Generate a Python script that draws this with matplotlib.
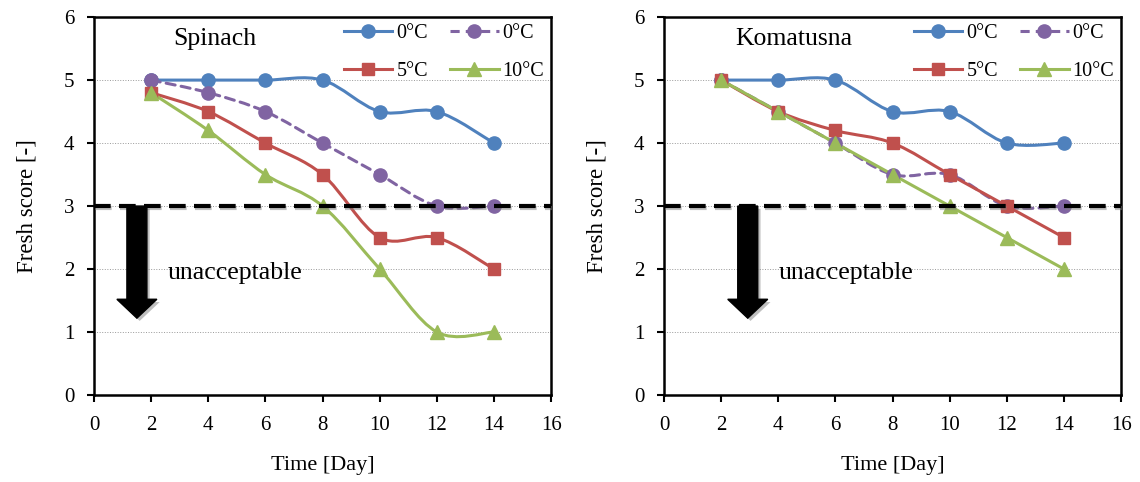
import numpy as np
import matplotlib
matplotlib.use("Agg")
import matplotlib.pyplot as plt
from matplotlib.path import Path
from matplotlib.patches import PathPatch, FancyArrow
from matplotlib.lines import Line2D
import matplotlib.patheffects as pe

plt.rcParams['font.family'] = ['Liberation Serif', 'DejaVu Serif']

days = [2, 4, 6, 8, 10, 12, 14]

spinach_0c = [5, 5, 5, 5, 4.5, 4.5, 4]
spinach_0c_b = [5, 4.8, 4.5, 4, 3.5, 3, 3]
spinach_5c = [4.8, 4.5, 4, 3.5, 2.5, 2.5, 2]
spinach_10c = [4.8, 4.2, 3.5, 3, 2, 1, 1]

komatsuna_0c = [5, 5, 5, 4.5, 4.5, 4, 4]
komatsuna_0c_b = [5, 4.5, 4, 3.5, 3.5, 3, 3]
komatsuna_5c = [5, 4.5, 4.2, 4, 3.5, 3, 2.5]
komatsuna_10c = [5, 4.5, 4, 3.5, 3, 2.5, 2]

series_labels = ['0°C', '0°C', '5°C', '10°C']
threshold = 3
x_ticks = list(range(0, 17, 2))
y_ticks = list(range(0, 7))

BLUE = '#4F81BD'
PURPLE = '#8064A2'
RED = '#C0504D'
GREEN = '#9BBB59'


def smooth_path(x, y):
    """Bezier path through the points, Excel-style smoothed line."""
    pts = np.column_stack([x, y]).astype(float)
    n = len(pts)
    verts = [pts[0]]
    codes = [Path.MOVETO]
    for i in range(n - 1):
        p0 = pts[i - 1] if i > 0 else pts[i]
        p1 = pts[i]
        p2 = pts[i + 1]
        p3 = pts[i + 2] if i + 2 < n else pts[i + 1]
        c1 = p1 + (p2 - p0) / 6.0
        c2 = p2 - (p3 - p1) / 6.0
        verts += [c1, c2, p2]
        codes += [Path.CURVE4] * 3
    return Path(verts, codes)


def draw_series(ax, y, color, marker, ms, ls='-'):
    patch = PathPatch(smooth_path(days, y), facecolor='none', edgecolor=color,
                      lw=2.2, linestyle=ls, zorder=3, capstyle='round')
    ax.add_patch(patch)
    ax.plot(days, y, linestyle='none', marker=marker, ms=ms, color=color,
            markeredgecolor=color, zorder=4)


def panel(ax, data, title, title_x, arrow_x, text_x):
    y0, y0b, y5, y10 = data
    draw_series(ax, y0, BLUE, 'o', 9.5)
    draw_series(ax, y0b, PURPLE, 'o', 9.5, ls=(0, (3, 2)))
    draw_series(ax, y5, RED, 's', 9)
    draw_series(ax, y10, GREEN, '^', 9.5)

    ax.set_xlim(0, 16)
    ax.set_ylim(0, 6)
    ax.set_xticks(x_ticks)
    ax.set_yticks(y_ticks)
    ax.tick_params(axis='both', direction='out', length=5, width=1.5,
                   labelsize=15)
    ax.tick_params(axis='x', pad=10)
    ax.tick_params(axis='y', pad=9)
    for s in ax.spines.values():
        s.set_linewidth(1.8)
    ax.grid(axis='y', color='#999999', lw=0.7, ls=':')
    ax.set_axisbelow(True)

    ax.axhline(threshold, color='black', lw=3, ls=(0, (4, 2)), zorder=6,
               clip_on=False,
               path_effects=[pe.SimpleLineShadow(offset=(1, -1.5),
                                                 shadow_color='gray', alpha=0.5),
                             pe.Normal()])

    arr = FancyArrow(arrow_x, threshold, 0, 1.22 - threshold, width=0.7,
                     head_width=1.4, head_length=0.3,
                     length_includes_head=True, color='black', zorder=7,
                     path_effects=[pe.withSimplePatchShadow(offset=(2, -2),
                                                            shadow_rgbFace='gray',
                                                            alpha=0.5)])
    ax.add_patch(arr)

    ax.text(text_x, 1.94, 'unacceptable', fontsize=18.5, va='center', ha='left')
    ax.text(title_x, 5.65, title, fontsize=18.5, va='center', ha='left')

    ax.set_xlabel('Time [Day]', fontsize=16, labelpad=15)
    ax.set_ylabel('Fresh score [-]', fontsize=16.5, labelpad=19)

    handles = [
        Line2D([], [], color=BLUE, marker='o', ms=9.5, lw=2.2),
        Line2D([], [], color=RED, marker='s', ms=9, lw=2.2),
        Line2D([], [], color=PURPLE, marker='o', ms=9.5, lw=2.2, ls=(0, (3, 2))),
        Line2D([], [], color=GREEN, marker='^', ms=9.5, lw=2.2),
    ]
    labels = [series_labels[0], series_labels[2], series_labels[1], series_labels[3]]
    ax.legend(handles, labels, ncol=2, frameon=False, fontsize=14.5,
              loc='upper right', bbox_to_anchor=(1.025, 1.03),
              handlelength=2.4, handletextpad=0.2, columnspacing=1.1,
              labelspacing=0.95)


fig = plt.figure(figsize=(11.4, 4.82), dpi=100)
ax1 = fig.add_axes([0.0825, 0.1805, 0.4009, 0.784])
ax2 = fig.add_axes([0.5825, 0.1805, 0.4009, 0.784])

panel(ax1, (spinach_0c, spinach_0c_b, spinach_5c, spinach_10c),
      'Spinach', 2.77, 1.5, 2.56)
panel(ax2, (komatsuna_0c, komatsuna_0c_b, komatsuna_5c, komatsuna_10c),
      'Komatusna', 2.49, 2.93, 4.01)

fig.savefig('out.png', dpi=100)
